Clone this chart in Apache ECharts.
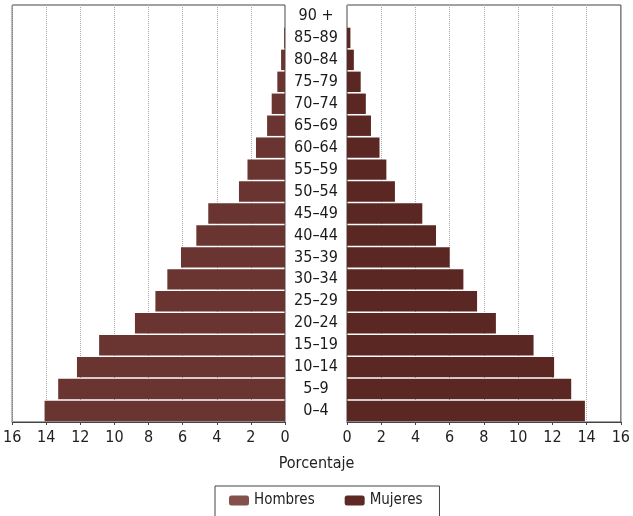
<!DOCTYPE html>
<html>
<head>
<meta charset="utf-8">
<script src="https://cdn.jsdelivr.net/npm/echarts@6/dist/echarts.min.js"></script>
<style>
html,body{margin:0;padding:0;background:#fff;}
#c{width:633px;height:516px;}
</style>
</head>
<body>
<div id="c"></div>
<script>
var categories = ['0–4','5–9','10–14','15–19','20–24','25–29','30–34','35–39','40–44','45–49','50–54','55–59','60–64','65–69','70–74','75–79','80–84','85–89','90 +'];
var hombres = [14.1,13.3,12.2,10.9,8.8,7.6,6.9,6.1,5.2,4.5,2.7,2.2,1.7,1.05,0.78,0.45,0.23,0.05,0];
var mujeres = [13.9,13.1,12.1,10.9,8.7,7.6,6.8,6.0,5.2,4.4,2.8,2.3,1.9,1.4,1.1,0.8,0.4,0.2,0];
var axisMin = 0, axisMax = 16, axisStep = 2;

var FONT = "'Liberation Sans Narrow','DejaVu Sans Condensed','Liberation Sans',sans-serif";
var chart = echarts.init(document.getElementById('c'), null, {renderer:'canvas'});

function xAxisDef(gi, inverse){
  return {
    type:'value', gridIndex:gi, min:axisMin, max:axisMax, interval:axisStep, inverse:inverse,
    axisLine:{show:true, lineStyle:{color:'#444', width:1}},
    axisTick:{show:true, length:3, lineStyle:{color:'#444'}},
    axisLabel:{color:'#222', fontFamily:FONT, fontSize:16, margin:8, showMinLabel:true, showMaxLabel:true},
    splitLine:{show:true, lineStyle:{color:'#a8a8a8', type:'dotted', width:1}}
  };
}

chart.setOption({
  backgroundColor:'#fff',
  animation:false,
  grid:[
    {left:11, right:348, top:5, bottom:94, show:true, borderColor:'#444', borderWidth:1, backgroundColor:'transparent'},
    {left:347, right:12, top:5, bottom:94, show:true, borderColor:'#444', borderWidth:1, backgroundColor:'transparent'}
  ],
  xAxis:[xAxisDef(0,true), xAxisDef(1,false)],
  yAxis:[
    {type:'category', gridIndex:0, data:categories, position:'right',
     axisLine:{show:false}, axisTick:{show:false},
     axisLabel:{show:true, interval:0, color:'#1a1a1a', fontFamily:FONT, fontSize:16, align:'center', margin:31}},
    {type:'category', gridIndex:1, data:categories,
     axisLine:{show:false}, axisTick:{show:false}, axisLabel:{show:false}}
  ],
  graphic:[
    {type:'text', left:'center', top:456, style:{text:'Porcentaje', fill:'#222', font:'16px '+FONT}}
  ],
  legend:{
    bottom:-2, left:215, itemWidth:20, itemHeight:10, itemGap:30,
    padding:[7,17,10,14], borderColor:'#444', borderWidth:1,
    textStyle:{color:'#222', fontFamily:FONT, fontSize:15},
    data:[{name:'Hombres', itemStyle:{color:'#84504b'}},{name:'Mujeres', itemStyle:{color:'#5e2825'}}]
  },
  series:[
    {name:'Hombres', type:'bar', xAxisIndex:0, yAxisIndex:0, data:hombres, barCategoryGap:'7%',
     itemStyle:{color:'#6a3530'}},
    {name:'Mujeres', type:'bar', xAxisIndex:1, yAxisIndex:1, data:mujeres, barCategoryGap:'7%',
     itemStyle:{color:'#5b2723'}}
  ]
});
</script>
</body>
</html>
